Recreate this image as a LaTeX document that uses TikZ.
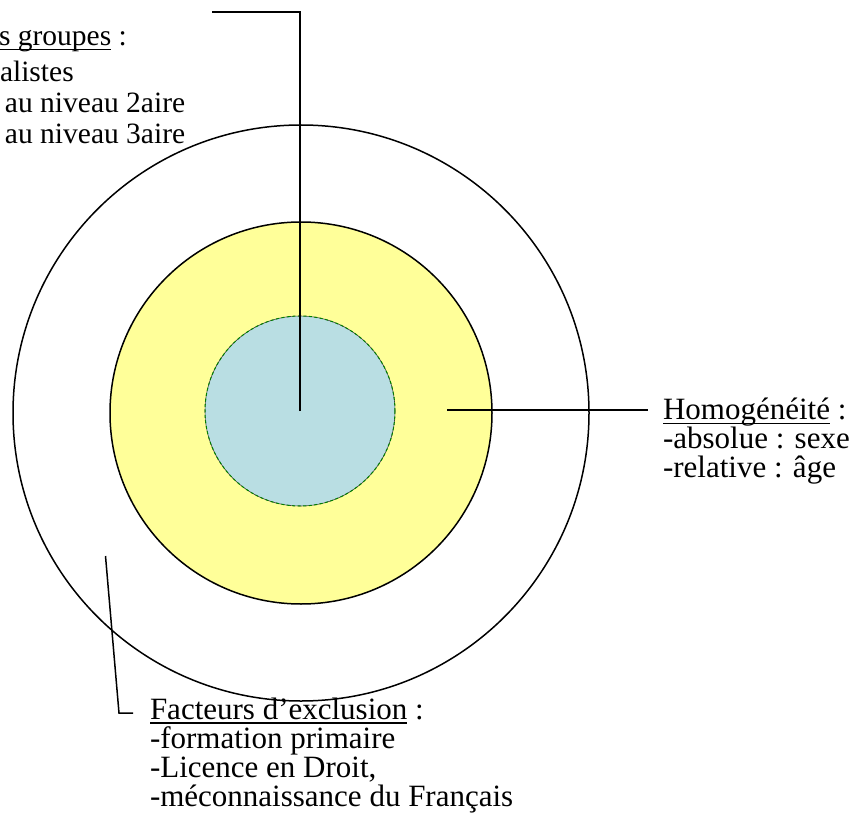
\documentclass[tikz,border=0pt]{standalone}
\usepackage{fontspec}
\setmainfont{Liberation Serif}
\definecolor{yellowfill}{RGB}{255,255,153}
\definecolor{bluefill}{RGB}{185,222,227}
\definecolor{dashgreen}{RGB}{0,128,0}
\newcommand{\mkul}[1]{\setbox0=\hbox{#1}\rlap{\rule[-4.5pt]{\wd0}{1.3pt}}\box0\relax}
\tikzset{
  lbl/.style={anchor=base west, inner sep=0pt, outer sep=0pt, font=\fontsize{31}{32}\selectfont},
  lblsmall/.style={lbl, font=\fontsize{29.5}{31}\selectfont},
  ring/.style={circle, draw=black, line width=1.5pt, inner sep=0pt, outer sep=0pt},
  conn/.style={draw=black, line width=1.5pt},
}
\begin{document}
\begin{tikzpicture}[x=1pt,y=-1pt]
\useasboundingbox (0,0) rectangle (854,832);
\clip (0,0) rectangle (854,832);
\fill[white] (0,0) rectangle (854,832);
% circles
\node[ring, minimum size=576pt] (outer) at (301,413) {};
\node[ring, fill=yellowfill, minimum size=382pt] (inner) at (301,413) {};
\node[circle, fill=bluefill, draw=black!75, line width=0.6pt, inner sep=0pt, outer sep=0pt, minimum size=190pt] (core) at (300,411) {};
\draw[dashgreen, dash pattern=on 3pt off 2.5pt, line width=1pt] (core.center) circle (95);
% connector coordinates
\coordinate (topcorner) at (300,12);
\coordinate (topend) at (212,12);
\coordinate (hstart) at (447,410);
\coordinate (hend) at (648,410);
\coordinate (fstart) at (105.5,556);
\coordinate (fcorner) at (119,713);
\coordinate (fend) at (133,713);
% connectors
\draw[conn] (core.center) -- (topcorner) -- (topend);
\draw[conn] (hstart) -- (hend);
\draw[conn] (fstart) -- (fcorner) -- (fend);
% texts
\node[lbl] (homog) at (663,419.5) {\mkul{Homogénéité} :};
\node[lbl] (abs) at (663,448.5) {-absolue : sexe};
\node[lbl] (rel) at (663,477.5) {-relative : âge};
\node[lbl] (fact) at (150,719) {\mkul{Facteurs d’exclusion} :};
\node[lbl] (f1) at (150,748) {-formation primaire};
\node[lbl] (f2) at (150,777) {-Licence en Droit,};
\node[lbl] (f3) at (150,806) {-méconnaissance du Français};
\node[lblsmall] (grp) at (-1,45.5) {\mkul{s groupes} :};
\node[lblsmall] (g1) at (0,82) {alistes};
\node[lblsmall] (g2) at (5,112.5) {au niveau 2aire};
\node[lblsmall] (g3) at (5,143) {au niveau 3aire};
\end{tikzpicture}
\end{document}
